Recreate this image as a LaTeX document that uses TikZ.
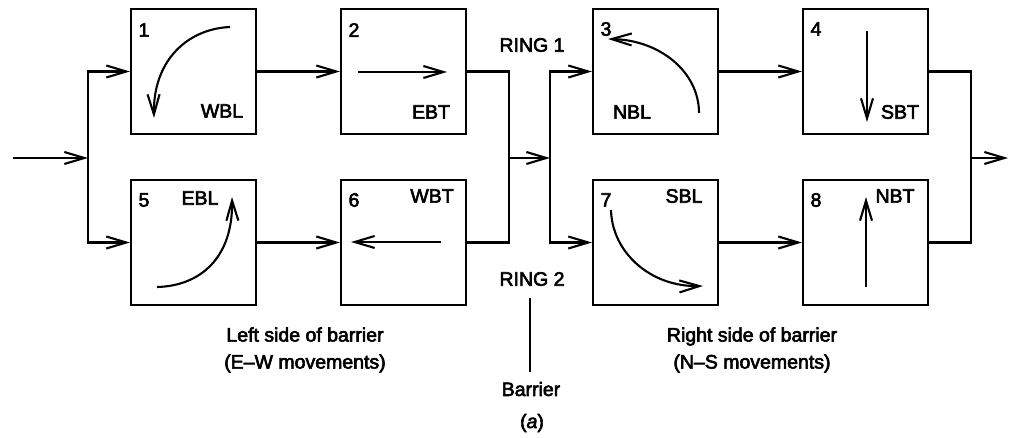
\documentclass[tikz,border=0pt]{standalone}
\usepackage{fontspec}
\setmainfont{Liberation Sans}[FakeBold=3]
\usetikzlibrary{arrows.meta}
\begin{document}
\begin{tikzpicture}[x=1pt,y=-1pt,
  every node/.style={font=\fontsize{19.5}{27}\selectfont, inner sep=0pt},
  phase/.style={draw, line width=2.1pt, minimum width=125pt, minimum height=125pt},
  flow/.style={line width=2.1pt},
  tip/.style={-{Straight Barb[length=20pt,width=12pt,line width=2.1pt]}},
  lbl/.style={anchor=center}]
\useasboundingbox (0,0) rectangle (1012,438);
% boxes
\node[phase] (b1) at (193.5,71.5) {};
\node[phase] (b2) at (403.5,71.5) {};
\node[phase] (b3) at (655.5,71.5) {};
\node[phase] (b4) at (865.5,71.5) {};
\node[phase] (b5) at (193.5,242.5) {};
\node[phase] (b6) at (403.5,242.5) {};
\node[phase] (b7) at (655.5,242.5) {};
\node[phase] (b8) at (865.5,242.5) {};
% junctions
\coordinate (in) at (13,158);
\coordinate (j1) at (88,158);
\coordinate (j2) at (509,158);
\coordinate (j3) at (550,158);
\coordinate (j4) at (971,158);
\coordinate (out) at (1008,158);
% connectors
\draw[flow,tip] (in) -- (j1);
\draw[flow,tip] (j1) |- (b1.west);
\draw[flow,tip] (j1) |- (b5.west);
\draw[flow,tip] (b1.east) -- (b2.west);
\draw[flow,tip] (b5.east) -- (b6.west);
\draw[flow] (b2.east) -| (j2);
\draw[flow] (b6.east) -| (j2);
\draw[flow,tip] (j2) -- (j3);
\draw[flow,tip] (j3) |- (b3.west);
\draw[flow,tip] (j3) |- (b7.west);
\draw[flow,tip] (b3.east) -- (b4.west);
\draw[flow,tip] (b7.east) -- (b8.west);
\draw[flow] (b4.east) -| (j4);
\draw[flow] (b8.east) -| (j4);
\draw[flow,tip] (j4) -- (out);
% movement arrows inside boxes
\draw[flow,tip] (230,27) .. controls (186,29) and (153,62) .. (154,118);
\draw[flow,tip] (358,72) -- (447,72);
\draw[flow,tip] (699,113) .. controls (699,72) and (660,40) .. (608,39);
\draw[flow,tip] (867,31) -- (867,122);
\draw[flow,tip] (157,287) .. controls (200,286) and (233,258) .. (232,197);
\draw[flow,tip] (441,242) -- (351,242);
\draw[flow,tip] (611,210) .. controls (612,252) and (650,287) .. (703,286);
\draw[flow,tip] (866,287) -- (866,197);
% labels
\node[lbl] (n1) at (144,30) {1};
\node[lbl] (l1) at (222,111) {WBL};
\node[lbl] (n2) at (354,30) {2};
\node[lbl] (l2) at (431,112) {EBT};
\node[lbl] (n3) at (606,29) {3};
\node[lbl] (l3) at (632,112) {NBL};
\node[lbl] (n4) at (816,29) {4};
\node[lbl] (l4) at (900,112) {SBT};
\node[lbl] (n5) at (144,200) {5};
\node[lbl] (l5) at (200,198) {EBL};
\node[lbl] (n6) at (354,200) {6};
\node[lbl] (l6) at (432,196) {WBT};
\node[lbl] (n7) at (606,200) {7};
\node[lbl] (l7) at (684,196) {SBL};
\node[lbl] (n8) at (816,200) {8};
\node[lbl] (l8) at (895,196) {NBT};
\node[lbl] (r1) at (532,45) {RING 1};
\node[lbl] (r2) at (532,279) {RING 2};
\node[lbl, align=center] (left) at (305,350) {Left side of barrier\\(E–W movements)};
\node[lbl, align=center] (right) at (752,350) {Right side of barrier\\(N–S movements)};
\coordinate (bt) at (530,298);
\coordinate (bb) at (530,372);
\draw[line width=1.7pt] (bt) -- (bb);
\node[lbl] (bar) at (531,389) {Barrier};
\node[lbl] (cap) at (532,423) {(\textit{a})};
\end{tikzpicture}
\end{document}
